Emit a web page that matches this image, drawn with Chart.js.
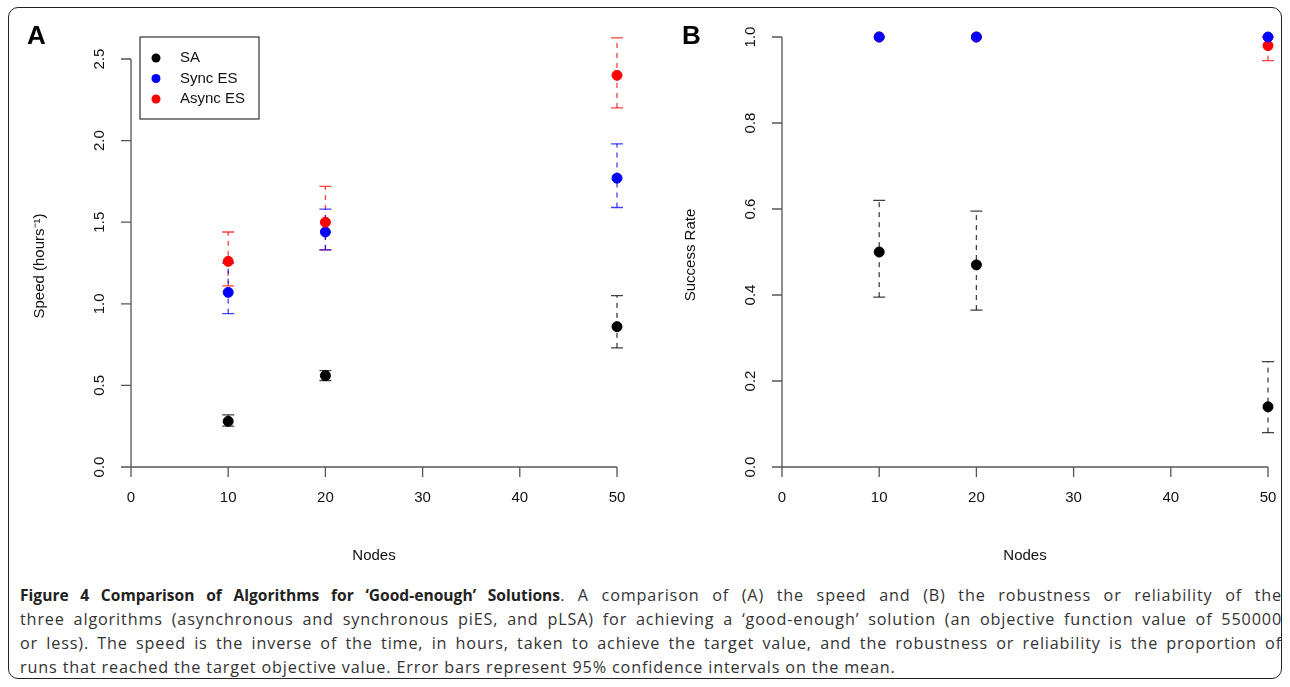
<!DOCTYPE html>
<html><head><meta charset="utf-8">
<script src="https://cdn.jsdelivr.net/npm/chart.js@4"></script>
<style>
body{margin:0;background:#fff;width:1290px;height:687px;overflow:hidden;position:relative;font-family:"Open Sans",sans-serif}
#frame{position:absolute;left:8px;top:7px;width:1274px;height:672px;border:1.5px solid #222;border-radius:10px;box-sizing:border-box}
canvas{position:absolute}
#cap{position:absolute;left:20px;top:583px;width:1262px;font-size:16.2px;line-height:24px;color:#333;letter-spacing:0.85px}
#cap div{white-space:nowrap;text-align:justify;text-align-last:justify}
#cap div.last{text-align-last:left}
#cap b{color:#222;letter-spacing:0;font-size:15.6px}
.lbl{position:absolute;font-family:"Liberation Sans",Arial,sans-serif;font-weight:bold;font-size:26px}
</style></head><body>
<div id="frame"></div>
<div style="position:absolute;left:0;top:0;width:1290px;height:570px;overflow:hidden">
<canvas id="ca" style="left:0;top:0"></canvas>
<canvas id="cb" style="left:650px;top:0"></canvas>
</div>
<div class="lbl" style="left:27px;top:20px">A</div>
<div class="lbl" style="left:682px;top:20px">B</div>
<div id="cap">
<div><b>Figure 4 Comparison of Algorithms for ‘Good-enough’ Solutions</b>. A comparison of (A) the speed and (B) the robustness or reliability of the</div>
<div>three algorithms (asynchronous and synchronous piES, and pLSA) for achieving a ‘good-enough’ solution (an objective function value of 550000</div>
<div>or less). The speed is the inverse of the time, in hours, taken to achieve the target value, and the robustness or reliability is the proportion of</div>
<div class="last">runs that reached the target objective value. Error bars represent 95% confidence intervals on the mean.</div>
</div>
<script>
const nodes=[10,20,50];
const xTicks=[0,10,20,30,40,50];
const speedTicks=[0,0.5,1.0,1.5,2.0,2.5];
const rateTicks=[0,0.2,0.4,0.6,0.8,1.0];
const speedSA=[0.28,0.56,0.86], speedSA_lo=[0.25,0.53,0.73], speedSA_hi=[0.32,0.59,1.05];
const speedSync=[1.07,1.44,1.77], speedSync_lo=[0.94,1.33,1.59], speedSync_hi=[1.25,1.58,1.98];
const speedAsync=[1.26,1.50,2.40], speedAsync_lo=[1.11,1.33,2.20], speedAsync_hi=[1.44,1.72,2.63];
const rateSA=[0.50,0.47,0.14], rateSA_lo=[0.395,0.365,0.08], rateSA_hi=[0.62,0.595,0.245];
const rateSync=[1,1,1];
const rateAsync=[1,1,0.98], rateAsync_lo=[1,1,0.945], rateAsync_hi=[1,1,1];
const F='"Liberation Sans",Arial,sans-serif';
function ds(label,color,v,lo,hi){return {label,data:nodes.map((x,i)=>({x,y:v[i]})),lo,hi,backgroundColor:color,borderColor:color,pointRadius:5,pointHoverRadius:5,showLine:false,clip:false};}
const axisPlugin={id:'ax',
 beforeDatasetsDraw(c){const ctx=c.ctx;ctx.save();
  c.data.datasets.forEach(d=>{if(!d.lo)return;const xs=c.scales.x,ys=c.scales.y;
   nodes.forEach((n,i)=>{const lo=d.lo[i],hi=d.hi[i];if(hi-lo<1e-9)return;const px=xs.getPixelForValue(n),p1=ys.getPixelForValue(lo),p2=ys.getPixelForValue(hi);
    ctx.strokeStyle=d.borderColor;ctx.globalAlpha=0.75;ctx.lineWidth=1.3;ctx.setLineDash([5,5]);ctx.beginPath();ctx.moveTo(px,p1);ctx.lineTo(px,p2);ctx.stroke();
    ctx.setLineDash([]);ctx.beginPath();ctx.moveTo(px-6,p1);ctx.lineTo(px+6,p1);ctx.moveTo(px-6,p2);ctx.lineTo(px+6,p2);ctx.stroke();ctx.globalAlpha=1;});});
  ctx.restore();},
 afterDraw(c){const o=c.options.plugins.ax;const ctx=c.ctx,xs=c.scales.x,ys=c.scales.y;ctx.save();
  ctx.strokeStyle='#555';ctx.lineWidth=1.3;ctx.fillStyle='#111';ctx.font='15px '+F;
  const b=c.chartArea.bottom,l=c.chartArea.left;
  ctx.beginPath();ctx.moveTo(xs.getPixelForValue(0),b);ctx.lineTo(xs.getPixelForValue(50),b);
  xTicks.forEach(t=>{const p=xs.getPixelForValue(t);ctx.moveTo(p,b);ctx.lineTo(p,b+10);});
  ctx.moveTo(l,ys.getPixelForValue(o.ticks[0]));ctx.lineTo(l,ys.getPixelForValue(o.ticks[o.ticks.length-1]));
  o.ticks.forEach(t=>{const p=ys.getPixelForValue(t);ctx.moveTo(l,p);ctx.lineTo(l-10,p);});ctx.stroke();
  ctx.textAlign='center';ctx.textBaseline='middle';
  xTicks.forEach(t=>ctx.fillText(String(t),xs.getPixelForValue(t),b+31));
  o.ticks.forEach(t=>{ctx.save();ctx.translate(l-31,ys.getPixelForValue(t));ctx.rotate(-Math.PI/2);ctx.fillText(t.toFixed(1),0,0);ctx.restore();});
  ctx.fillText('Nodes',(xs.getPixelForValue(0)+xs.getPixelForValue(50))/2,b+89);
  ctx.save();ctx.translate(l-91,(ys.top+ys.bottom)/2+3);ctx.rotate(-Math.PI/2);ctx.fillText(o.title,0,0);ctx.restore();
  if(o.legend){ctx.strokeStyle='#333';ctx.lineWidth=1.2;ctx.strokeRect(140,37,119,82);
   [['SA','#000'],['Sync ES','#00f'],['Async ES','#f00']].forEach((r,i)=>{const y=58+i*20.5;ctx.fillStyle=r[1];ctx.beginPath();ctx.arc(156,y,4.5,0,7);ctx.fill();ctx.fillStyle='#111';ctx.textAlign='left';ctx.fillText(r[0],180,y);});}
  ctx.restore();}};
function make(id,pad,ymax,ticks,title,sets,legend){
 const cv=document.getElementById(id);
 return new Chart(cv,{type:'scatter',data:{datasets:sets},plugins:[axisPlugin],
  options:{responsive:false,animation:false,devicePixelRatio:1,layout:{padding:pad},
   plugins:{legend:{display:false},tooltip:{enabled:false},ax:{ticks,title,legend}},
   scales:{x:{type:'linear',min:0,max:50,display:false},y:{type:'linear',min:0,max:ymax,display:false}}}});}
['ca','cb'].forEach((id,i)=>{const c=document.getElementById(id);c.width=i?640:650;c.height=570;});
// Chart.js draws dataset 0 on top
make('ca',{left:131,right:33,top:59,bottom:103},2.5,speedTicks,'Speed (hours⁻¹)',[
 ds('SA','#000',speedSA,speedSA_lo,speedSA_hi),ds('Async ES','#f00',speedAsync,speedAsync_lo,speedAsync_hi),ds('Sync ES','#00f',speedSync,speedSync_lo,speedSync_hi)],true);
make('cb',{left:132,right:22,top:37,bottom:103},1.0,rateTicks,'Success Rate',[
 ds('SA','#000',rateSA,rateSA_lo,rateSA_hi),ds('Sync ES','#00f',rateSync,null,null),ds('Async ES','#f00',rateAsync,rateAsync_lo,rateAsync_hi)],false);
</script></body></html>
